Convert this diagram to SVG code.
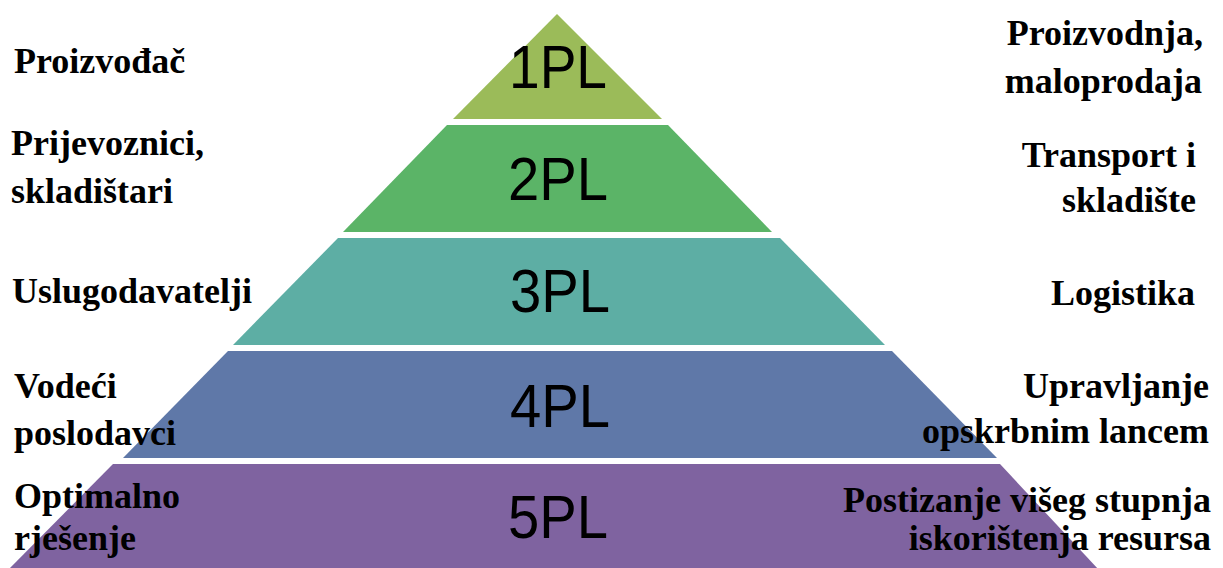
<svg xmlns="http://www.w3.org/2000/svg" width="1223" height="568" viewBox="0 0 1223 568">
<style>
.lvl{font-family:"Liberation Sans","DejaVu Sans",sans-serif;font-size:62px;fill:#000;text-anchor:middle}
.lab{font-family:"Liberation Serif","Times New Roman",serif;font-weight:bold;font-size:36px;fill:#000}
.r{text-anchor:end}
</style>
<rect width="1223" height="568" fill="#fff"/>
<g id="layer1">
<polygon points="557,14 662,119 453,119" fill="#9BBB59"/>
<text class="lvl" x="558" y="88" textLength="98" lengthAdjust="spacingAndGlyphs">1PL</text>
</g>
<g id="layer2">
<polygon points="447,125 668,125 772,232 343,232" fill="#5BB467"/>
<text class="lvl" x="558" y="200" textLength="100" lengthAdjust="spacingAndGlyphs">2PL</text>
</g>
<g id="layer3">
<polygon points="338,238 780,238 885,345 233,345" fill="#5DAEA4"/>
<text class="lvl" x="560" y="312" textLength="100" lengthAdjust="spacingAndGlyphs">3PL</text>
</g>
<g id="layer4">
<polygon points="228,351 892,351 997,458 123,458" fill="#5F78A8"/>
<text class="lvl" x="560" y="427" textLength="100" lengthAdjust="spacingAndGlyphs">4PL</text>
</g>
<g id="layer5">
<polygon points="113,464 1000,464 1099,570 8,570" fill="#7F63A0"/>
<text class="lvl" x="558" y="538" textLength="100" lengthAdjust="spacingAndGlyphs">5PL</text>
</g>
<g id="left-labels">
<text class="lab" x="14" y="73">Proizvođač</text>
<text class="lab" x="11" y="155">Prijevoznici,</text>
<text class="lab" x="11" y="203">skladištari</text>
<text class="lab" x="12" y="303">Uslugodavatelji</text>
<text class="lab" x="14" y="398">Vodeći</text>
<text class="lab" x="14" y="445">poslodavci</text>
<text class="lab" x="14" y="508">Optimalno</text>
<text class="lab" x="14" y="550">rješenje</text>
</g>
<g id="right-labels">
<text class="lab r" x="1203" y="45">Proizvodnja,</text>
<text class="lab r" x="1202" y="93">maloprodaja</text>
<text class="lab r" x="1196" y="167">Transport i</text>
<text class="lab r" x="1196" y="212">skladište</text>
<text class="lab r" x="1195" y="305">Logistika</text>
<text class="lab r" x="1209" y="398">Upravljanje</text>
<text class="lab r" x="1209" y="443">opskrbnim lancem</text>
<text class="lab r" x="1211" y="512">Postizanje višeg stupnja</text>
<text class="lab r" x="1211" y="550">iskorištenja resursa</text>
</g>
</svg>
